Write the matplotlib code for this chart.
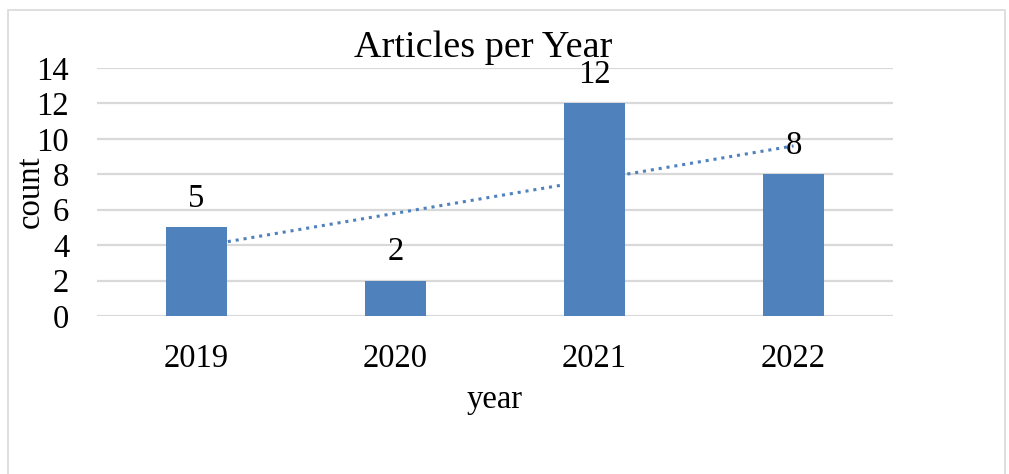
import numpy as np
import matplotlib
matplotlib.use('Agg')
import matplotlib.pyplot as plt
from matplotlib.patches import Rectangle

years = ['2019', '2020', '2021', '2022']
counts = [5, 2, 12, 8]
y_ticks = [0, 2, 4, 6, 8, 10, 12, 14]

plt.rcParams['font.family'] = ['Liberation Serif', 'DejaVu Serif']

W, H = 1009, 474
FS = 23.5
fig = plt.figure(figsize=(W / 100, H / 100), dpi=100)
ax = fig.add_axes([97 / W, 1 - 316 / H, (893 - 97) / W, (316 - 68) / H])

x = np.arange(len(years))
bar_color = '#4f81bd'
ax.bar(x, counts, width=0.31, color=bar_color, zorder=3)

# linear trendline (Excel style)
slope, intercept = np.polyfit(x, counts, 1)
ax.plot(x, slope * x + intercept, linestyle=(0, (1, 1.6)), color=bar_color,
        linewidth=2.2, zorder=2)

for xi, c in zip(x, counts):
    ax.text(xi, c + 1.6, str(c), ha='center', va='center', fontsize=FS)

ax.set_xlim(-0.5, len(years) - 0.5)
ax.set_ylim(0, 14)
ax.set_yticks(y_ticks)
ax.set_yticklabels([str(t) for t in y_ticks], fontsize=FS)
ax.set_xticks(x)
ax.set_xticklabels(years, fontsize=FS)
ax.tick_params(length=0)
ax.tick_params(axis='y', pad=20)
ax.tick_params(axis='x', pad=20)
ax.grid(axis='y', color='#d9d9d9', linewidth=1.6, zorder=0)
ax.set_axisbelow(True)
for s in ax.spines.values():
    s.set_visible(False)

fig.text(483 / W, 1 - 48 / H, 'Articles per Year', ha='center', va='center', fontsize=27.5)
fig.text(495 / W, 1 - 400 / H, 'year', ha='center', va='center', fontsize=FS)
fig.text(30 / W, 1 - 192 / H, 'count', ha='center', va='center', fontsize=FS, rotation=90)

fig.patches.append(Rectangle((8 / W, -0.05), (1005 - 8) / W, 1 - 10 / H + 0.05,
                             transform=fig.transFigure, fill=False,
                             edgecolor='#d9d9d9', linewidth=1.2))

fig.savefig('out.png', dpi=100)
